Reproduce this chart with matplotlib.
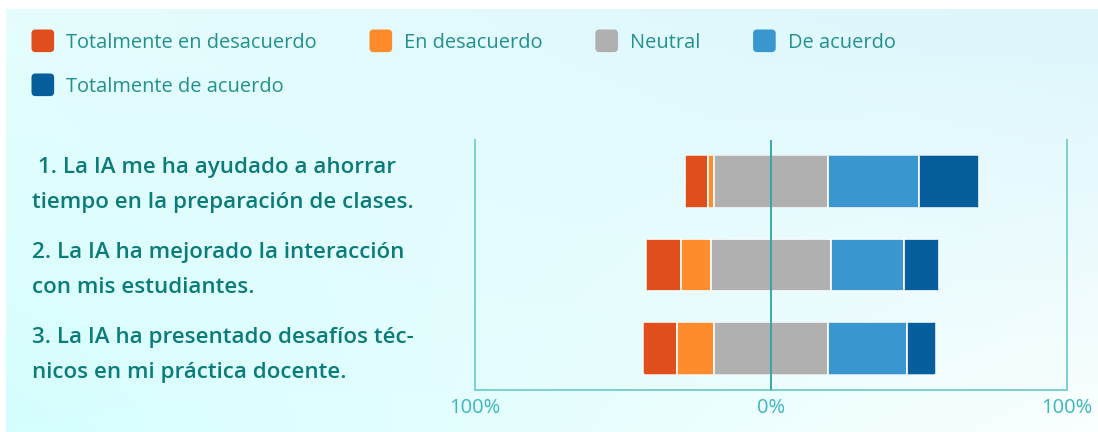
import numpy as np
import matplotlib
matplotlib.use("Agg")
import matplotlib.pyplot as plt
from matplotlib.patches import FancyBboxPatch, Patch
from matplotlib.legend_handler import HandlerPatch
from matplotlib.transforms import blended_transform_factory

# survey items (top to bottom)
questions = [
    " 1. La IA me ha ayudado a ahorrar\ntiempo en la preparación de clases.",
    "2. La IA ha mejorado la interacción\ncon mis estudiantes.",
    "3. La IA ha presentado desafíos téc-\nnicos en mi práctica docente.",
]
levels = ["Totalmente en desacuerdo", "En desacuerdo", "Neutral",
          "De acuerdo", "Totalmente de acuerdo"]
colors = ["#E04E1C", "#FE8B2C", "#B0B0B0", "#3A96CF", "#065E9C"]

# percentages per level
tot_desacuerdo = [7.8, 11.7, 11.5]
en_desacuerdo = [2.0, 10.3, 12.4]
neutral = [38.5, 40.3, 38.4]
de_acuerdo = [30.8, 24.7, 26.6]
tot_acuerdo = [20.2, 11.9, 9.9]

W, H = 1098, 432
plt.rcParams["font.family"] = ["Open Sans", "DejaVu Sans"]
fig = plt.figure(figsize=(W / 100, H / 100), dpi=100, facecolor="white")

# soft cyan background panel
bg = fig.add_axes([6 / W, 0, 1 - 6 / W, 1 - 9 / H], zorder=-5)
yy, xx = np.mgrid[0:1:200j, 0:1:400j]
tl, tr = np.array([0xE6, 0xFD, 0xFD]), np.array([0xDC, 0xF6, 0xFC])
bl, br = np.array([0xD5, 0xFE, 0xFE]), np.array([0xFA, 0xFF, 0xFF])
img = ((1 - xx)[..., None] * (1 - yy)[..., None] * tl + xx[..., None] * (1 - yy)[..., None] * tr
       + (1 - xx)[..., None] * yy[..., None] * bl + xx[..., None] * yy[..., None] * br) / 255
bg.imshow(img, aspect="auto", extent=[0, 1, 1, 0], interpolation="bilinear")
bg.axis("off")

ax = fig.add_axes([475 / W, (H - 390) / H, (1067 - 475) / W, (390 - 140) / H])
ax.patch.set_alpha(0)
ax.set_xlim(-100, 100)
ax.set_ylim(2.5, -0.5)

data = np.array([tot_desacuerdo, en_desacuerdo, neutral, de_acuerdo, tot_acuerdo]).T
h = 0.63
for i, row in enumerate(data):
    start = -(row[0] + row[1] + row[2] / 2)
    outline = FancyBboxPatch((start, i - h / 2), row.sum(), h,
                             boxstyle="round,pad=0,rounding_size=1.1",
                             mutation_aspect=0.034, fc="none", ec="none")
    ax.add_patch(outline)
    lefts = start + np.concatenate([[0], np.cumsum(row)[:-1]])
    bars = ax.barh(i, row, left=lefts, height=h, color=colors,
                   edgecolor="white", linewidth=1.2, zorder=2)
    for b in bars:
        b.set_clip_path(outline)

ax.axvline(0, color="#2AA3AE", lw=1.3, zorder=3)
for s in ["left", "right", "bottom"]:
    ax.spines[s].set_color("#7BD0D0")
    ax.spines[s].set_linewidth(1.4)
ax.spines["top"].set_visible(False)
ax.set_xticks([-100, 0, 100], ["100%", "0%", "100%"])
ax.tick_params(axis="x", length=0, pad=6, labelsize=14.5, labelcolor="#3DB6BE")
ax.set_yticks([])

tr_lab = blended_transform_factory(fig.transFigure, ax.transData)
for i, q in enumerate(questions):
    ax.text(32 / W, i + 0.04 + 0.02 * i, q, transform=tr_lab, ha="left", va="center",
            fontsize=16.1, fontweight="semibold", color="#0C7C7A", linespacing=1.85)


class RoundSquare(HandlerPatch):
    def create_artists(self, legend, orig_handle, xdescent, ydescent,
                       width, height, fontsize, trans):
        s = width
        p = FancyBboxPatch((-xdescent, -ydescent + height / 2 - s / 2), s, s,
                           boxstyle="round,pad=0,rounding_size=%f" % (s * 0.18),
                           fc=orig_handle.get_facecolor(), ec="none", transform=trans)
        return [p]


handles = [Patch(color=c, label=l) for c, l in zip(colors, levels)]
order = [0, 4, 1, 2, 3]
fs = 14.4
leg = fig.legend([handles[k] for k in order], [levels[k] for k in order],
                 loc="upper left", bbox_to_anchor=(31.5 / W, 1 - 31 / H), ncol=4,
                 frameon=False, fontsize=fs, borderpad=0, borderaxespad=0,
                 handlelength=16.3 / fs, handleheight=16.3 / fs,
                 handletextpad=8.6 / fs, columnspacing=38 / fs, labelspacing=1.12,
                 labelcolor="#23908F", handler_map={Patch: RoundSquare()})

fig.savefig("out.png", dpi=100, facecolor=fig.get_facecolor())
